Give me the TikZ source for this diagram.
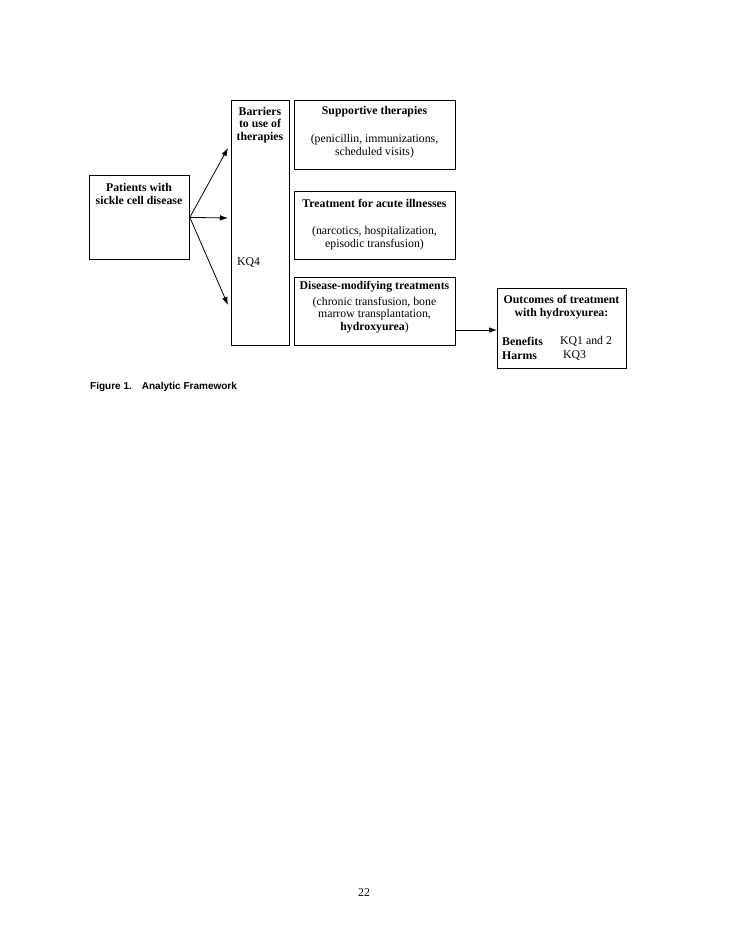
\documentclass[tikz,border=0pt]{standalone}
\usepackage{fontspec}
\setmainfont{Liberation Serif}
\newfontfamily\capfont{Liberation Sans}
\usetikzlibrary{arrows.meta}

\begin{document}
\begin{tikzpicture}[x=1pt,y=-1pt,
  box/.style={draw,thick,inner sep=0pt,anchor=north west},
  txt/.style={align=center,font=\fontsize{11.8}{12.8}\selectfont,inner sep=0pt},
  btxt/.style={txt,font=\fontsize{11.8}{12.8}\selectfont\bfseries},
  arr/.style={draw,-{Latex[length=8pt,width=5.5pt]},line width=0.8pt}]
\useasboundingbox[fill=white] (0,0) rectangle (728,942);

% boxes
\node[box,minimum width=100pt,minimum height=84pt] (patients) at (89,175) {};
\node[box,minimum width=58pt,minimum height=245pt] (barriers) at (231,100) {};
\node[box,minimum width=161pt,minimum height=69pt] (supportive) at (294,100) {};
\node[box,minimum width=161pt,minimum height=68pt] (acute) at (294,191) {};
\node[box,minimum width=161pt,minimum height=68pt] (disease) at (294,277) {};
\node[box,minimum width=129pt,minimum height=80pt] (outcomes) at (497,288) {};

% texts
\node[btxt] (patientstxt) at (139,194) {Patients with\\sickle cell disease};
\node[btxt] (barrierstxt) at (260,125) {Barriers\\to use of\\therapies};
\node[txt,anchor=west] (kq4) at (237,263) {KQ4};
\node[btxt] (suptitle) at (374.5,112) {Supportive therapies};
\node[txt] (supbody) at (374.5,146.5) {(penicillin, immunizations,\\scheduled visits)};
\node[btxt] (acutetitle) at (374.5,203) {Treatment for acute illnesses};
\node[txt] (acutebody) at (374.5,238) {(narcotics, hospitalization,\\episodic transfusion)};
\node[btxt] (distitle) at (374.5,287) {Disease-modifying treatments};
\node[txt] (disbody) at (374.5,315) {(chronic transfusion, bone\\marrow transplantation,\\\textbf{hydroxyurea})};
\node[btxt] (outtitle) at (561.5,307) {Outcomes of treatment\\with hydroxyurea:};
\node[txt,align=left,anchor=west,font=\fontsize{11.8}{14}\selectfont\bfseries] (outlbl) at (502,348) {Benefits\\Harms};
\node[txt,align=left,anchor=west,font=\fontsize{11.8}{14}\selectfont] (outkq) at (560,348) {KQ1 and 2\\\hspace{3pt}KQ3};

\node[anchor=west,inner sep=0pt,font=\capfont\fontsize{10}{12}\selectfont\bfseries] (caption) at (90,387) {Figure 1.\hspace{10pt}Analytic Framework};
\node[txt] (pagenum) at (364,893) {22};

% arrows
\coordinate (b1) at (228,148);
\coordinate (b2) at (228,218);
\coordinate (b3) at (228,305);
\path[arr] (patients.east) -- (b1);
\path[arr] (patients.east) -- (b2);
\path[arr] (patients.east) -- (b3);
\path[arr] (disease.east |- 0,330) -- (outcomes.west |- 0,330);
\end{tikzpicture}
\end{document}
